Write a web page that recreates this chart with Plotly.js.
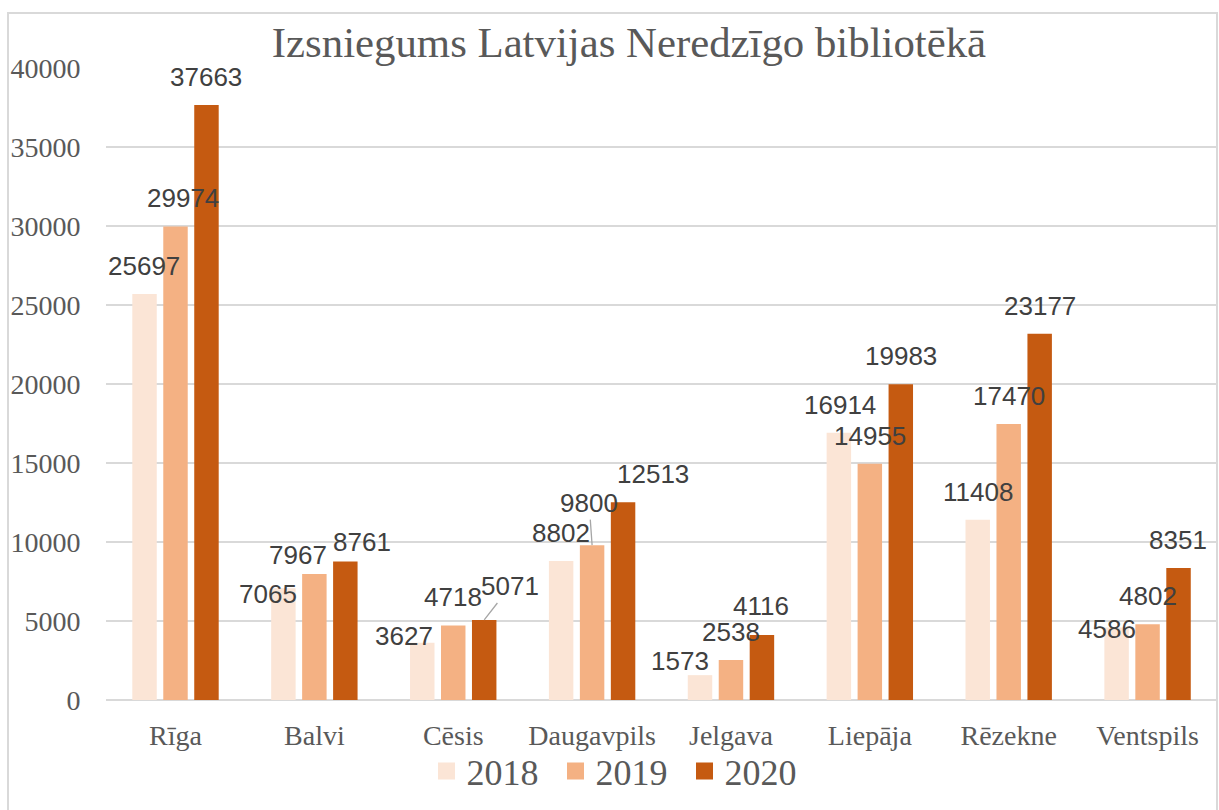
<!DOCTYPE html>
<html>
<head>
<meta charset="utf-8">
<script src="https://cdn.plot.ly/plotly-3.0.1.min.js"></script>
<style>
  html, body { margin: 0; padding: 0; background: #ffffff; }
  #chart { position: absolute; left: 0; top: 0; width: 1219px; height: 810px; }
  #frame { position: absolute; left: 7px; top: 12px; width: 1211px; height: 820px;
           box-sizing: border-box; border: 2px solid #d9d9d9; pointer-events: none; }
</style>
</head>
<body>
<div id="chart"></div>
<div id="frame"></div>
<script>
// ---- data ----
const categories = ['Rīga', 'Balvi', 'Cēsis', 'Daugavpils', 'Jelgava', 'Liepāja', 'Rēzekne', 'Ventspils'];
const seriesNames = ['2018', '2019', '2020'];
const v2018 = [25697, 7065, 3627, 8802, 1573, 16914, 11408, 4586];
const v2019 = [29974, 7967, 4718, 9800, 2538, 14955, 17470, 4802];
const v2020 = [37663, 8761, 5071, 12513, 4116, 19983, 23177, 8351];
const yTicks = [0, 5000, 10000, 15000, 20000, 25000, 30000, 35000, 40000];

// ---- label placement (pixel offsets from bar centre / bar top) ----
const dx2018 = [-0.5, -15.5, -18, 0, -20, 1, 0, -10];
const dy2018 = [-28, 5.6, -6.7, -28, -14, -28, -28, 1.5];
const dx2019 = [7.5, -16, -0.5, -3, 0, 0, 0, 0];
const dy2019 = [-28.4, -19.6, -28, -42, -28, -28, -28, -28];
const dx2020 = [-1, 17, 26, 30, -0.5, 0, 0, -1];
const dy2020 = [-28, -19.6, -33.4, -28, -28.5, -28, -28, -28];
const leaderLines = [['2020', 'Cēsis'], ['2019', 'Daugavpils']];

// ---- styles ----
const colors = ['#FBE5D6', '#F4B183', '#C55A11'];
const serif = 'Liberation Serif, Times New Roman, serif';
const sans = 'Liberation Sans, Arial, sans-serif';
const textGrey = '#595959';
const labelGrey = '#404040';
const slotPx = 31;

const values = [v2018, v2019, v2020];
const dxs = [dx2018, dx2019, dx2020];
const dys = [dy2018, dy2019, dy2020];

const traces = [];
seriesNames.forEach((name, s) => {
  traces.push({
    type: 'bar', name: name, x: categories, y: values[s],
    offsetgroup: name, showlegend: false, hoverinfo: 'x+y',
    marker: { color: colors[s], line: { width: 0 } }
  });
});
// legend entries (no marks)
seriesNames.forEach((name, s) => {
  traces.push({
    type: 'bar', name: name, x: [categories[0]], y: [null],
    offsetgroup: name, showlegend: true, hoverinfo: 'skip',
    marker: { color: colors[s], line: { color: colors[s], width: 5 } }
  });
});

const annotations = [];
seriesNames.forEach((name, s) => {
  categories.forEach((cat, i) => {
    const isLeader = leaderLines.some(p => p[0] === name && p[1] === cat);
    const base = {
      x: cat, y: values[s][i], xref: 'x', yref: 'y',
      text: String(values[s][i]),
      font: { family: sans, size: 26, color: labelGrey }
    };
    if (isLeader) {
      Object.assign(base, {
        showarrow: true, arrowhead: 0, arrowwidth: 1.3, arrowcolor: '#a6a6a6',
        standoff: 0, axref: 'pixel', ayref: 'pixel',
        ax: dxs[s][i], ay: dys[s][i], xshift: (s - 1) * slotPx
      });
    } else {
      Object.assign(base, {
        showarrow: false,
        xshift: (s - 1) * slotPx + dxs[s][i],
        yshift: -dys[s][i]
      });
    }
    annotations.push(base);
  });
});

const layout = {
  width: 1219, height: 810,
  margin: { l: 106, r: 2, t: 68, b: 110, autoexpand: false },
  paper_bgcolor: '#ffffff', plot_bgcolor: '#ffffff',
  barmode: 'group', bargap: 0.331, bargroupgap: 0.21,
  title: {
    text: 'Izsniegums Latvijas Neredzīgo bibliotēkā',
    font: { family: serif, size: 42.8, color: textGrey },
    xref: 'container', yref: 'container',
    x: 629 / 1219, xanchor: 'center', y: 1 - 42.3 / 810, yanchor: 'middle'
  },
  xaxis: {
    type: 'category', showgrid: false, showline: false, zeroline: false,
    ticks: 'outside', ticklen: 10, tickcolor: 'rgba(0,0,0,0)',
    tickfont: { family: serif, size: 28, color: textGrey }
  },
  yaxis: {
    range: [0, 40000], tickvals: yTicks, ticktext: yTicks.map(String),
    showgrid: true, gridcolor: '#d9d9d9', gridwidth: 1.5,
    zeroline: true, zerolinecolor: '#d9d9d9', zerolinewidth: 1.5,
    showline: false, ticks: 'outside', ticklen: 19, tickcolor: 'rgba(0,0,0,0)',
    tickfont: { family: serif, size: 28, color: textGrey }
  },
  showlegend: true,
  legend: {
    orientation: 'h', xref: 'container', yref: 'container',
    x: 620 / 1219, xanchor: 'center', y: (810 - 771) / 810, yanchor: 'middle',
    font: { family: serif, size: 36, color: textGrey },
    entrywidth: 84, entrywidthmode: 'pixels',
    bgcolor: 'rgba(0,0,0,0)', traceorder: 'normal'
  },
  annotations: annotations
};

Plotly.newPlot('chart', traces, layout, { displayModeBar: false, staticPlot: true });
</script>
</body>
</html>
